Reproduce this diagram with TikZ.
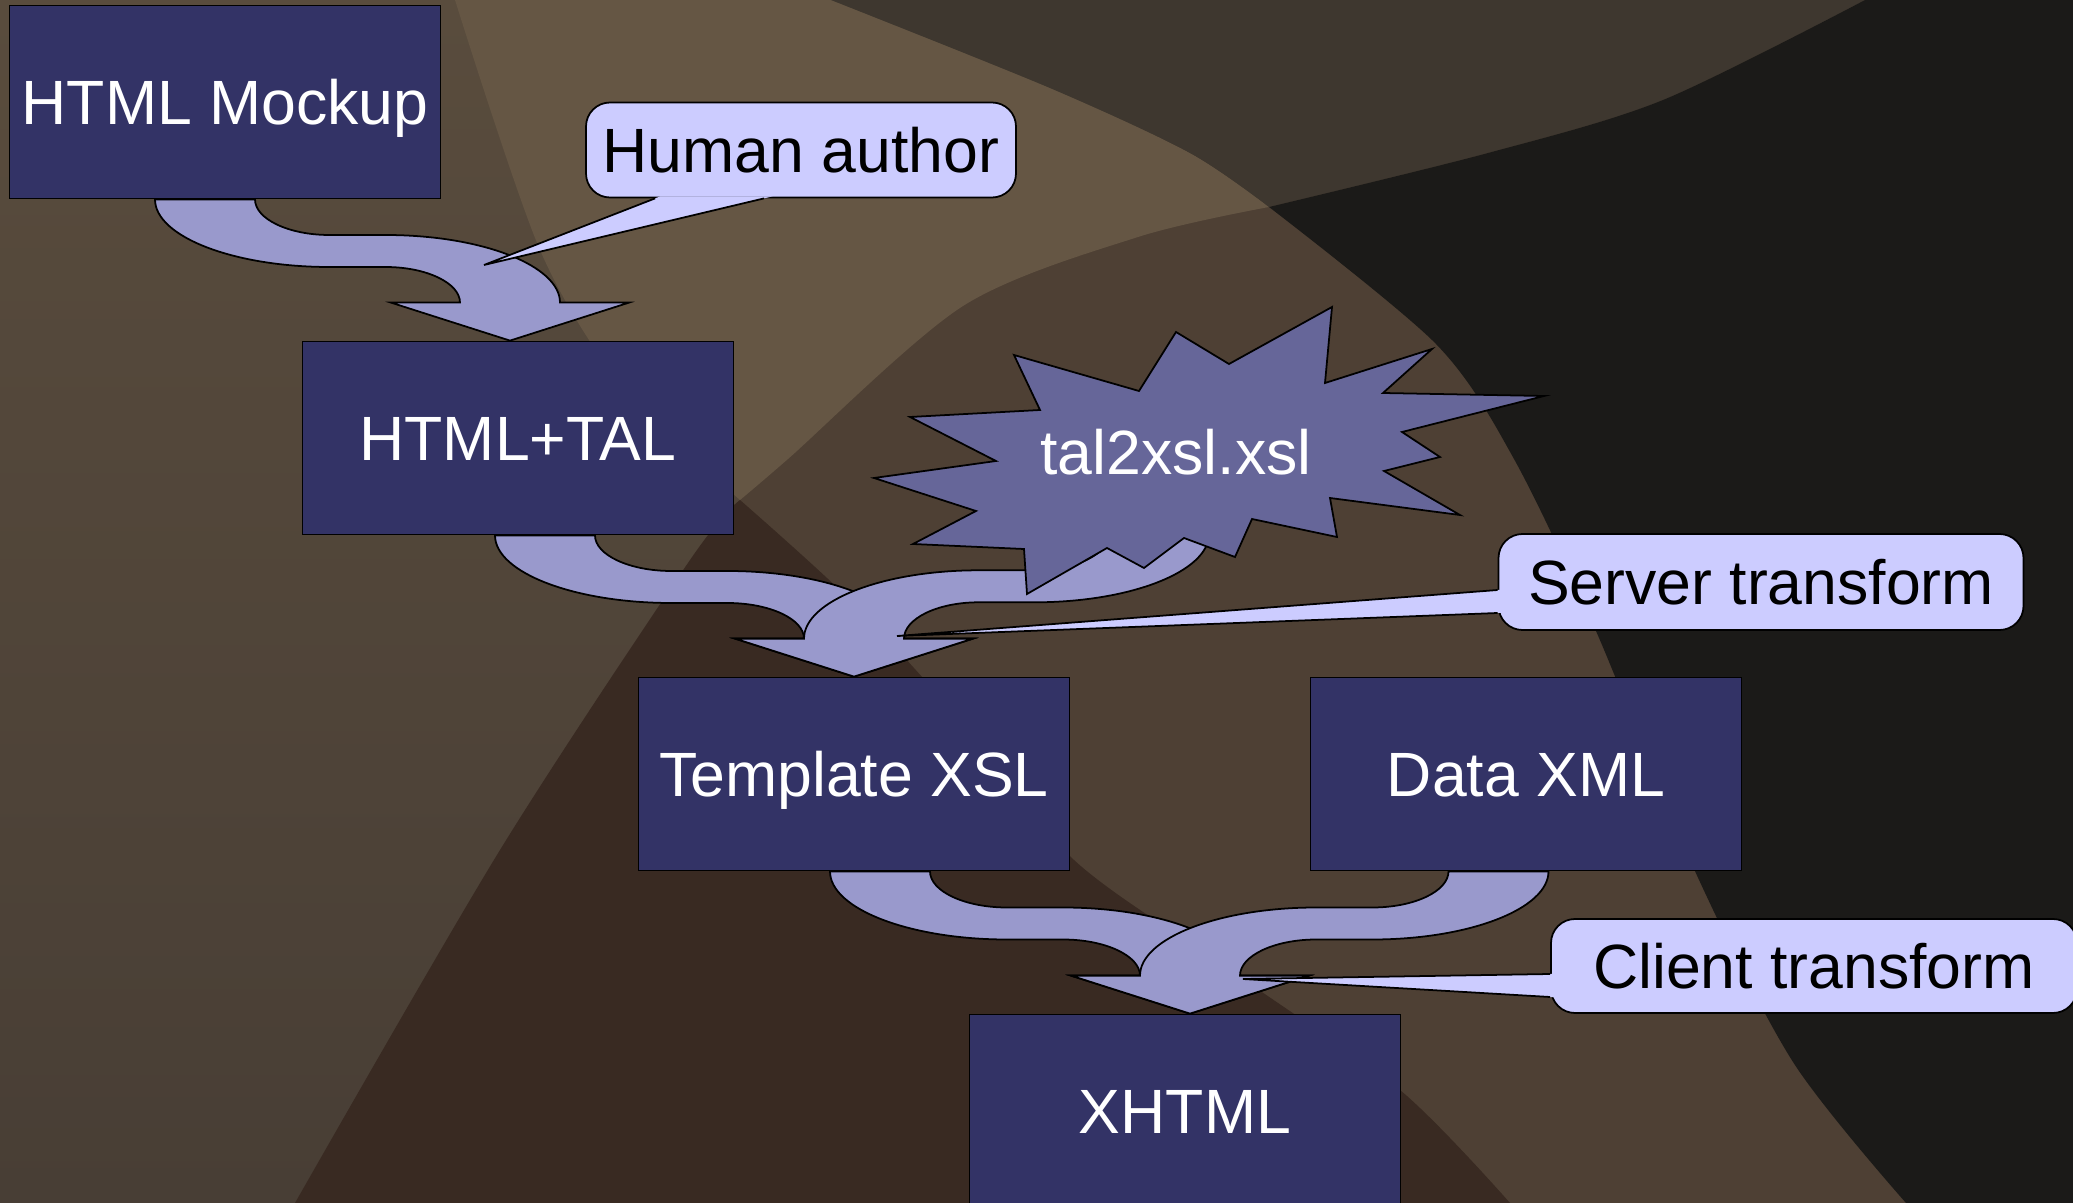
\documentclass[tikz,border=0pt]{standalone}
\usepackage{fontspec}
\setmainfont{Liberation Sans}
\usetikzlibrary{calc}
\definecolor{BoxNavy}{RGB}{51,51,102}
\definecolor{ArrowLilac}{RGB}{153,153,204}
\definecolor{CallLilac}{RGB}{204,204,255}
\definecolor{BurstPurple}{RGB}{102,102,153}
\definecolor{GroundTop}{RGB}{89,76,61}
\definecolor{GroundLow}{RGB}{72,62,53}
\definecolor{BandLight}{RGB}{101,86,68}
\definecolor{TopDark}{RGB}{62,55,47}
\definecolor{MidBrown}{RGB}{78,64,52}
\definecolor{DeepBrown}{RGB}{57,42,34}
\definecolor{NightGrey}{RGB}{27,26,24}
\tikzset{
  box/.style={draw=black,line width=.5pt,fill=BoxNavy,text=white,font=\fontsize{17.8pt}{20pt}\selectfont,minimum width=43.1mm,minimum height=19.3mm,inner sep=0pt,text height=4.5mm,text depth=0pt},
  balloon/.style={draw=black,line width=.5pt,fill=CallLilac,rounded corners=2.4mm,text=black,font=\fontsize{17.8pt}{20pt}\selectfont,inner sep=0pt,text height=4.5mm,text depth=0pt},
  burstlabel/.style={text=white,font=\fontsize{17.8pt}{20pt}\selectfont,inner sep=0pt,text height=4.5mm,text depth=0pt},
  bent/.style={draw=black,line width=.5pt,fill=ArrowLilac},
  burst/.style={draw=black,line width=.5pt,fill=BurstPurple},
  tailedge/.style={draw=black,line width=.5pt}
}
% S-shaped block arrow: #1 source point, #2 tip, #3 = 1 (goes right) or -1 (goes left)
\newcommand{\bentarrow}[3]{%
  \path #1 coordinate (bs) #2 coordinate (be);
  \path ($(bs)+({-(#3)*50},0)$) coordinate (sa) ($(bs)+({(#3)*50},0)$) coordinate (sb)
        ($(bs)!.5!(be)+(0,-19)$) coordinate (bm)
        ($(bm)+({-(#3)*28},16)$) coordinate (ma) ($(bm)+({-(#3)*28},-16)$) coordinate (mb)
        ($(bm)+({(#3)*28},16)$) coordinate (na) ($(bm)+({(#3)*28},-16)$) coordinate (nb)
        ($(be)+({-(#3)*50},-38)$) coordinate (ea) ($(be)+({(#3)*50},-38)$) coordinate (eb)
        ($(be)+({-(#3)*119},-38)$) coordinate (wa) ($(be)+({(#3)*119},-38)$) coordinate (wb);
  \draw[bent] (sa) .. controls ($(sa)!.55!(sa|-ma)$) and ($(ma)!.55!(sa|-ma)$) .. (ma)
    -- (na) .. controls ($(na)!.55!(ea|-na)$) and ($(ea)!.55!(ea|-na)$) .. (ea)
    -- (wa) -- (be) -- (wb) -- (eb)
    .. controls ($(eb)!.55!(eb|-nb)$) and ($(nb)!.55!(eb|-nb)$) .. (nb)
    -- (mb) .. controls ($(mb)!.55!(sb|-mb)$) and ($(sb)!.55!(sb|-mb)$) .. (sb) -- cycle;}
% pointer of a balloon: #1 and #3 on the balloon edge, #2 the tip
\newcommand{\calltail}[3]{%
  \path #1 coordinate (ta) #2 coordinate (tt) #3 coordinate (tb);
  \fill[CallLilac] ($(tt)!1.03!(ta)$) -- (tt) -- ($(tt)!1.03!(tb)$) -- cycle;
  \draw[tailedge] (ta) -- (tt) -- (tb);}

\begin{document}
\begin{tikzpicture}[x=.1mm,y=-.1mm]
  \useasboundingbox (0,0) rectangle (2073,1203);
  \clip (0,0) rectangle (2073,1203);
  % backdrop
  \fill[top color=GroundTop,bottom color=GroundLow] (0,0) rectangle (2073,1203);
  \fill[MidBrown] (740,500) -- (700,300) -- (1269,100) -- (2073,0) -- (2073,1203) -- (295,1203) -- cycle;
  \fill[DeepBrown] plot[smooth] coordinates {(740,500) (690,560) (500,850) (295,1203)}
    -- plot[smooth] coordinates {(1510,1203) (1400,1090) (1230,970) (1074,860) (960,720) (850,600) (740,500)} -- cycle;
  \fill[BandLight] (455,0) -- (831,0)
    -- plot[smooth] coordinates {(831,0) (1050,88) (1190,153) (1269,207)}
    -- plot[smooth] coordinates {(1269,207) (1138,237) (963,306) (788,459) (740,500)}
    -- plot[smooth] coordinates {(740,500) (625,390) (540,250) (455,0)} -- cycle;
  \fill[TopDark] (831,0) -- (1865,0)
    -- plot[smooth] coordinates {(1865,0) (1663,100) (1488,153) (1269,207)}
    -- plot[smooth] coordinates {(1269,207) (1190,153) (1050,88) (831,0)} -- cycle;
  \fill[NightGrey] (1865,0) -- (2073,0) -- (2073,1203) -- (1906,1203)
    -- plot[smooth] coordinates {(1906,1203) (1793,1062) (1694,869) (1596,631) (1514,459) (1436,344) (1269,207)}
    -- plot[smooth] coordinates {(1269,207) (1488,153) (1663,100) (1865,0)} -- cycle;
  % documents
  \node[box] (mockup) at (225,102) {HTML Mockup};
  \node[box] (tal) at (518,438) {HTML+TAL};
  \node[box] (template) at (854,774) {Template XSL};
  \node[box] (data) at (1526,774) {Data XML};
  \node[box] (xhtml) at (1185,1111) {XHTML};
  \coordinate (xsltc) at (1176,452);
  % flows
  \bentarrow{([xshift=-2mm]mockup.south)}{([xshift=-.8mm]tal.north)}{1}
  \bentarrow{([xshift=2.7mm]tal.south)}{(template.north)}{1}
  \bentarrow{([shift={(-1.7mm,-8.2mm)}]xsltc)}{(template.north)}{-1}
  \bentarrow{([xshift=2.6mm]template.south)}{([xshift=.5mm]xhtml.north)}{1}
  \bentarrow{([xshift=-2.75mm]data.south)}{([xshift=.5mm]xhtml.north)}{-1}
  % stylesheet burst
  \begin{scope}[shift={(xsltc)}]
    \draw[burst] (-162,-97) -- (-37,-61) -- (0,-120) -- (53,-88) -- (156,-145) -- (149,-69)
      -- (256,-103) -- (207,-59) -- (368,-56) -- (226,-20) -- (264,5) -- (208,19)
      -- (284,63) -- (154,46) -- (161,85) -- (76,67) -- (59,105) -- (8,86)
      -- (-32,116) -- (-69,96) -- (-149,142) -- (-152,97) -- (-263,92) -- (-200,59)
      -- (-302,26) -- (-180,9) -- (-266,-35) -- (-136,-42) -- cycle;
  \end{scope}
  \node[burstlabel] (xslt) at (xsltc) {tal2xsl.xsl};
  % balloons
  \node[balloon,minimum width=43mm,minimum height=9.5mm] (author) at (801,150) {Human author};
  \coordinate (authortip) at (484,265);
  \calltail{([xshift=7mm]author.south west)}{(authortip)}{([xshift=17.9mm]author.south west)}
  \node[balloon,minimum width=52.5mm,minimum height=9.6mm] (server) at (1761,582) {Server transform};
  \coordinate (servertip) at (897,636);
  \calltail{([yshift=-.8mm]server.west)}{(servertip)}{([yshift=-3.1mm]server.west)}
  \node[balloon,minimum width=52.6mm,minimum height=9.4mm] (client) at (1814,966) {Client transform};
  \coordinate (clienttip) at (1243,979);
  \calltail{([yshift=-.8mm]client.west)}{(clienttip)}{([yshift=-3.1mm]client.west)}
\end{tikzpicture}
\end{document}
